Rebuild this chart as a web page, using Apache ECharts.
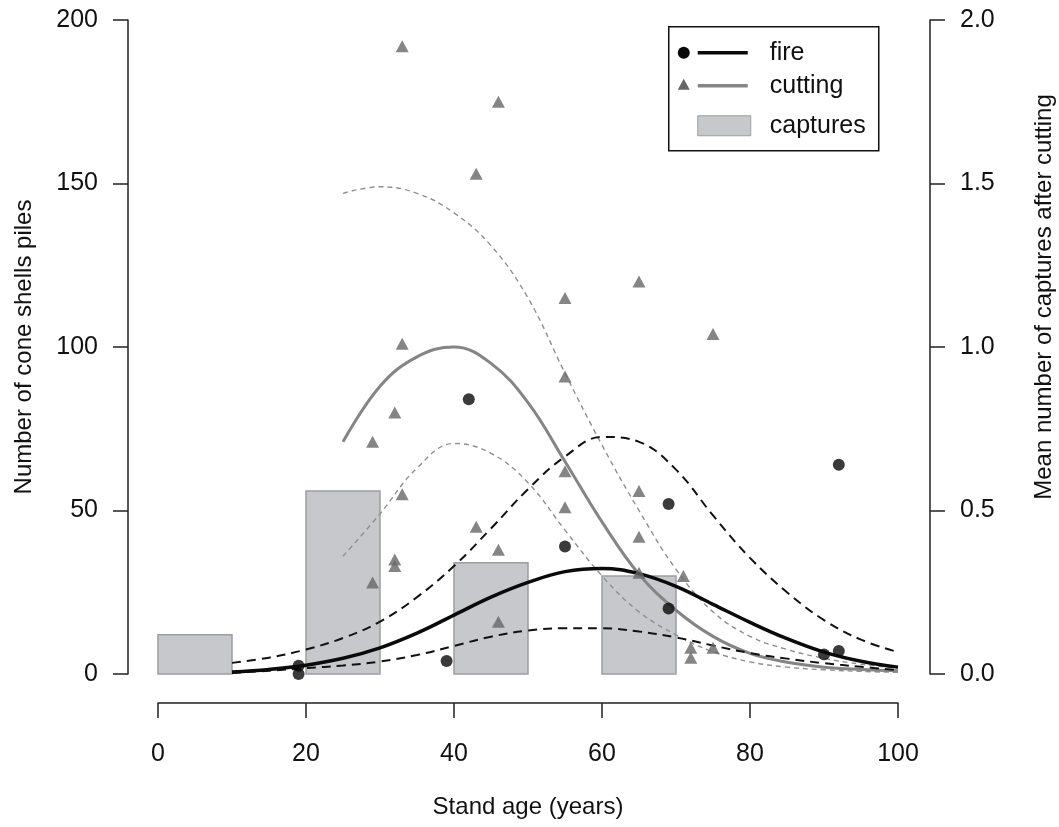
<!DOCTYPE html>
<html>
<head>
<meta charset="utf-8">
<script src="https://cdn.jsdelivr.net/npm/echarts@6/dist/echarts.min.js"></script>
<style>
  html, body { margin: 0; padding: 0; background: #fff; }
  #chart { width: 1059px; height: 827px; }
</style>
</head>
<body>
<div id="chart"></div>
<script>
// captures (right axis), one bar per 10-year class
const barStart = [0, 20, 40, 60];
const barEnd = [10, 30, 50, 70];
const captures = [0.12, 0.56, 0.34, 0.30];

// observed piles after fire
const fireAge = [19, 19, 39, 42, 55, 69, 69, 90, 92, 92];
const firePiles = [0, 2.5, 4, 84, 39, 52, 20, 6, 7, 64];

// observed piles after cutting
const cutAge = [33, 46, 43, 33, 32, 29, 33, 32, 32, 29, 43, 46, 46, 55, 55, 55, 55, 65, 65, 65, 65, 71, 72, 72, 75, 75];
const cutPiles = [192, 175, 153, 101, 80, 71, 55, 35, 33, 28, 45, 38, 16, 115, 91, 62, 51, 120, 56, 42, 31, 30, 8, 5, 8, 104];

// fitted curves + confidence bands
const fireCurveAge = [10, 15, 20, 25, 30, 35, 40, 45, 50, 55, 60, 65, 70, 75, 80, 85, 90, 95, 100];
const fireFit = [0.6, 1.4, 2.7, 4.8, 8, 12.5, 18, 23.5, 28, 31.3, 32.3, 30.7, 26.8, 21.3, 15.8, 10.8, 6.7, 3.9, 2.1];
const fireUpper = [3.4, 5, 7.5, 11, 16, 23.5, 33, 44.5, 56.5, 66.5, 72.5, 71, 62.5, 48.5, 35.5, 25, 16.5, 10.5, 6.7];
const fireLower = [0.3, 1, 1.8, 2.6, 3.8, 5.8, 8.6, 11.4, 13.3, 14, 14, 13, 11.2, 8.7, 6.4, 4.7, 3.3, 2.2, 1.2];

const cutCurveAge = [25, 30, 35, 40, 45, 50, 55, 60, 65, 70, 75, 80, 85, 90, 95, 100];
const cutFit = [71, 88, 97, 100, 95, 83, 65, 46.5, 30.5, 19.5, 11.5, 6.3, 3.6, 2.1, 1.4, 1];
const cutUpper = [147, 149, 147, 141, 131, 115, 92, 70, 50, 32, 19, 11.5, 7.5, 4.8, 3, 1.8];
const cutLower = [36, 49, 63, 70.5, 67.5, 58.5, 44, 30, 19, 12, 6.8, 3.7, 2.1, 1.3, 0.8, 0.5];

const xTicks = [0, 20, 40, 60, 80, 100];

const FONT = '"Liberation Sans", Arial, sans-serif';
const AXIS_COLOR = '#222';

const zip = (xs, ys) => xs.map((x, i) => [x, ys[i]]);

const chart = echarts.init(document.getElementById('chart'));

const option = {
    animation: false,
    backgroundColor: '#fff',
    grid: { left: 158, right: 161, top: 20, bottom: 153, outerBoundsMode: 'none', containLabel: false },
    xAxis: {
        type: 'value',
        min: xTicks[0],
        max: xTicks[xTicks.length - 1],
        interval: 20,
        offset: 29,
        name: 'Stand age (years)',
        nameLocation: 'middle',
        nameGap: 92,
        nameTextStyle: { fontFamily: FONT, fontSize: 24, color: '#111' },
        axisLine: { show: true, onZero: false, lineStyle: { color: AXIS_COLOR, width: 1.5 } },
        axisTick: { show: true, length: 15, lineStyle: { color: AXIS_COLOR, width: 1.5 } },
        axisLabel: { margin: 39, fontFamily: FONT, fontSize: 25, color: '#111' },
        splitLine: { show: false }
    },
    yAxis: [
        {
            type: 'value',
            position: 'left',
            min: 0,
            max: 200,
            interval: 50,
            offset: 30,
            name: 'Number of cone shells piles',
            nameLocation: 'middle',
            nameRotate: 90,
            nameGap: 92,
            nameTextStyle: { fontFamily: FONT, fontSize: 24, color: '#111' },
            axisLine: { show: true, onZero: false, lineStyle: { color: AXIS_COLOR, width: 1.5 } },
            axisTick: { show: true, length: 15, lineStyle: { color: AXIS_COLOR, width: 1.5 } },
            axisLabel: { margin: 30, fontFamily: FONT, fontSize: 25, color: '#111' },
            splitLine: { show: false }
        },
        {
            type: 'value',
            position: 'right',
            min: 0,
            max: 2,
            interval: 0.5,
            offset: 32,
            name: 'Mean number of captures after cutting',
            nameLocation: 'middle',
            nameRotate: 90,
            nameGap: 102,
            // title sits a bit above the axis middle in the original
            nameTextStyle: { fontFamily: FONT, fontSize: 24, color: '#111', padding: [0, 0, 0, 100] },
            axisLine: { show: true, onZero: false, lineStyle: { color: AXIS_COLOR, width: 1.5 } },
            axisTick: { show: true, length: 15, lineStyle: { color: AXIS_COLOR, width: 1.5 } },
            axisLabel: {
                margin: 30, fontFamily: FONT, fontSize: 25, color: '#111',
                formatter: v => v.toFixed(1)
            },
            splitLine: { show: false }
        }
    ],
    series: [
        {
            name: 'captures',
            type: 'custom',
            yAxisIndex: 1,
            z: 1,
            data: captures.map((v, i) => [barStart[i], barEnd[i], v]),
            renderItem: (params, api) => {
                const p0 = api.coord([api.value(0), api.value(2)]);
                const p1 = api.coord([api.value(1), 0]);
                return {
                    type: 'rect',
                    shape: { x: p0[0], y: p0[1], width: p1[0] - p0[0], height: p1[1] - p0[1] },
                    style: { fill: '#c6c8cb', stroke: '#9c9ea0', lineWidth: 1.5 }
                };
            }
        },
        {
            name: 'cutting upper', type: 'line', data: zip(cutCurveAge, cutUpper),
            smooth: 0.4, symbol: 'none', z: 3,
            lineStyle: { color: '#8f8f8f', width: 1.4, type: [5, 4] }
        },
        {
            name: 'cutting lower', type: 'line', data: zip(cutCurveAge, cutLower),
            smooth: 0.4, symbol: 'none', z: 3,
            lineStyle: { color: '#8f8f8f', width: 1.4, type: [5, 4] }
        },
        {
            name: 'cutting fit', type: 'line', data: zip(cutCurveAge, cutFit),
            smooth: 0.4, symbol: 'none', z: 4,
            lineStyle: { color: '#858585', width: 3 }
        },
        {
            name: 'fire upper', type: 'line', data: zip(fireCurveAge, fireUpper),
            smooth: 0.4, symbol: 'none', z: 5,
            lineStyle: { color: '#111', width: 2, type: [9, 6] }
        },
        {
            name: 'fire lower', type: 'line', data: zip(fireCurveAge, fireLower),
            smooth: 0.4, symbol: 'none', z: 5,
            lineStyle: { color: '#111', width: 2, type: [9, 6] }
        },
        {
            name: 'fire fit', type: 'line', data: zip(fireCurveAge, fireFit),
            smooth: 0.4, symbol: 'none', z: 6,
            lineStyle: { color: '#0a0a0a', width: 3.5 }
        },
        {
            name: 'cutting', type: 'scatter', data: zip(cutAge, cutPiles),
            symbol: 'triangle', symbolSize: [13, 12], z: 7,
            itemStyle: { color: '#666' }
        },
        {
            name: 'fire', type: 'scatter', data: zip(fireAge, firePiles),
            symbol: 'circle', symbolSize: 12, z: 8,
            itemStyle: { color: '#0a0a0a' }
        }
    ],
    // legend box drawn by hand (R style: point + line per entry)
    graphic: [
        {
            type: 'group', left: 668, top: 26, z: 100,
            children: [
                { type: 'rect', shape: { x: 0, y: 0, width: 210, height: 124 },
                  style: { fill: '#fff', stroke: '#111', lineWidth: 1.5 } },
                { type: 'circle', shape: { cx: 15, cy: 26, r: 6 }, style: { fill: '#0a0a0a' } },
                { type: 'line', shape: { x1: 29, y1: 26, x2: 79, y2: 26 },
                  style: { stroke: '#0a0a0a', lineWidth: 3.5 } },
                { type: 'text', x: 101, y: 26,
                  style: { text: 'fire', fontFamily: FONT, fontSize: 25, fill: '#111', verticalAlign: 'middle' } },
                { type: 'polygon', shape: { points: [[15, 52], [9, 63], [21, 63]] }, style: { fill: '#666' } },
                { type: 'line', shape: { x1: 29, y1: 59, x2: 79, y2: 59 },
                  style: { stroke: '#858585', lineWidth: 3.5 } },
                { type: 'text', x: 101, y: 59,
                  style: { text: 'cutting', fontFamily: FONT, fontSize: 25, fill: '#111', verticalAlign: 'middle' } },
                { type: 'rect', shape: { x: 29, y: 89, width: 53, height: 20 },
                  style: { fill: '#c6c8cb', stroke: '#9c9ea0', lineWidth: 1 } },
                { type: 'text', x: 101, y: 99,
                  style: { text: 'captures', fontFamily: FONT, fontSize: 25, fill: '#111', verticalAlign: 'middle' } }
            ]
        }
    ]
};

chart.setOption(option);

window.addEventListener('resize', () => {
    chart.resize();
});
</script>
</body>
</html>
